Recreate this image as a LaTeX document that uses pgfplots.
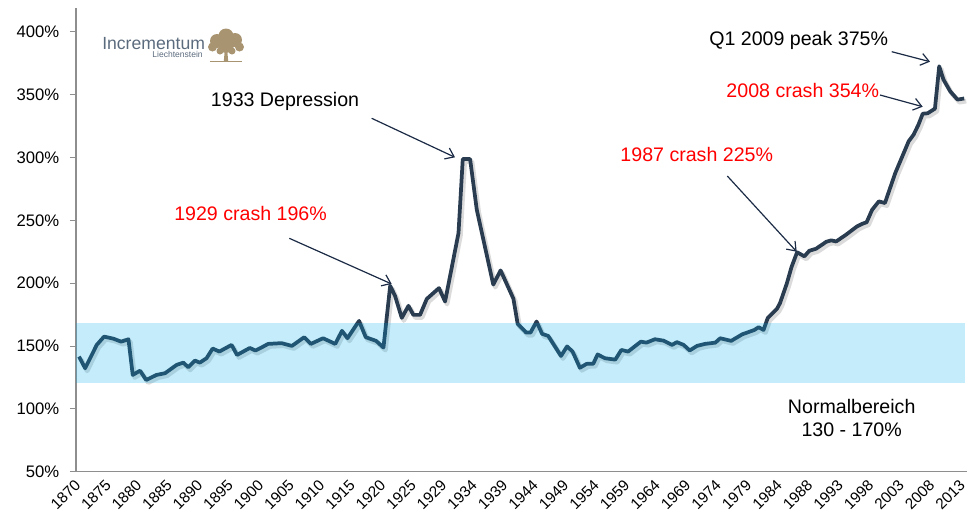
\documentclass[border=0pt]{standalone}
\usepackage{fontspec}
\setmainfont{Liberation Sans}
\usepackage{pgfplots}
\pgfplotsset{compat=1.18}
\usepackage{pgfplotstable}
\usetikzlibrary{arrows.meta}
\definecolor{linec}{HTML}{2A3C50}
\definecolor{bandc}{RGB}{0,175,235}
\definecolor{axisgray}{HTML}{8E8E8E}
\definecolor{arrowc}{HTML}{1C2B45}
\definecolor{logoblue}{HTML}{5B6B7E}
\definecolor{logotan}{HTML}{A89470}
\definecolor{annred}{HTML}{FF0000}

\pgfplotstableread{
x y
0 141.6
1.0 132.3
2.9 150.9
4.1 157.5
5.6 155.9
6.9 153.5
8.1 155.4
8.8 127.0
10.0 130.4
11.0 123.0
12.7 127.0
14.1 128.4
16.0 135.0
17.1 136.8
17.9 133.1
19.0 138.4
19.8 136.8
20.9 140.3
21.9 148.0
23.0 145.6
25.0 150.9
25.9 142.9
28.0 148.5
28.9 146.4
29.7 148.3
31.0 151.7
33.2 152.3
34.9 150.1
36.9 157.0
38.0 151.7
40.0 156.2
42.0 151.7
43.1 162.1
44.0 156.2
45.9 170.0
47.0 157.0
48.7 154.1
49.9 148.8
51.0 197.9
51.8 189.9
52.9 172.4
54.0 182.0
54.8 174.8
55.9 174.8
57.0 187.5
59.0 196.1
60.0 185.4
62.2 239.9
62.9 298.8
64.1 298.8
65.2 258.4
67.9 198.9
69.1 210.2
71.2 187.7
71.9 167.6
73.3 160.7
74.0 160.7
75.0 169.5
75.9 159.7
76.9 158.1
79.0 142.1
80.0 149.7
80.9 145.6
82.1 132.7
83.2 135.8
84.3 136.0
85.0 143.3
86.2 140.3
87.9 139.2
88.9 146.9
90.0 145.6
92.1 153.5
93.0 152.7
94.4 155.4
95.8 154.3
97.2 150.9
98.0 153.1
99.1 150.9
100.1 146.5
101.3 150.1
102.6 151.7
104.3 152.7
105.1 156.2
106.9 154.1
108.7 159.3
110.7 162.8
111.4 165.0
112.2 162.8
112.9 172.4
114.4 179.6
114.9 184.1
116.0 199.5
116.8 213.0
117.7 224.6
118.9 221.4
119.7 225.8
120.8 227.4
122.5 233.0
123.3 234.1
124.1 233.2
125.7 238.5
127.5 245.1
128.4 247.3
129.1 248.5
130.0 258.4
131.1 265.1
132.1 263.8
133.8 287.7
136.0 313.0
136.8 318.2
137.6 326.2
138.3 334.9
139.1 335.2
140.3 338.9
141.0 372.6
141.7 362.0
142.8 352.7
144.0 346.1
145.1 347.0
}\debt

\begin{document}
\begin{tikzpicture}
\useasboundingbox (-57pt,-37pt) rectangle (677.25pt,353.775pt);
\begin{axis}[
  at={(0,0)}, anchor=south west,
  scale only axis, width=668pt, height=347.775pt,
  xmin=-0.5, xmax=145.5, ymin=50, ymax=419,
  axis x line=bottom, axis y line=left,
  axis line style={draw=axisgray, line width=0.8pt, -},
  tick align=outside, major tick length=4.5pt,
  ytick style={draw=axisgray, line width=0.8pt},
  xtick style={draw=none},
  ytick={50,100,150,200,250,300,350,400},
  yticklabels={50\%,100\%,150\%,200\%,250\%,300\%,350\%,400\%},
  yticklabel style={font=\fontsize{12.5}{14}\selectfont, text=black, xshift=-4.5pt},
  xtick={0,5,...,145},
  xticklabels={1870,1875,1880,1885,1890,1895,1900,1905,1910,1915,1920,1925,1929,1934,1939,1944,1949,1954,1959,1964,1969,1974,1979,1984,1988,1993,1998,2003,2008,2013},
  xticklabel style={rotate=45, anchor=east, font=\fontsize{11.5}{13}\selectfont, text=black, yshift=-2pt},
  clip=false,
]
\addplot[draw=black, opacity=0.14, line width=3.4pt, line join=round, xshift=1.5pt, yshift=-2pt] table[x=x,y=y] {\debt};
\addplot[draw=linec, line width=2.8pt, line join=round] table[x=x,y=y] {\debt};
\addplot[draw=none, fill=bandc, fill opacity=0.23] coordinates {(-0.5,120.8) (145.2,120.8) (145.2,168.6) (-0.5,168.6)} -- cycle;
\end{axis}
\begin{scope}[x=0.75pt, y=-0.75pt, shift={(-57pt,353.775pt)}]
  % logo
  \node[anchor=base west, inner sep=0, text=logoblue, font=\fontsize{13.2}{15}\selectfont] at (102,49) {Incrementum};
  \node[anchor=base east, inner sep=0, text=logoblue, font=\fontsize{6.4}{7}\selectfont] at (203,57) {Liechtenstein};
  \fill[logotan] (217,41) circle (7) (226,36) circle (7.5) (235,40) circle (7) (239.5,47) circle (4.5) (212.5,47) circle (4.5) (226,45) circle (8) (220,51) circle (3.5) (232,51) circle (3.5);
  \fill[logotan] (224.8,50) -- (227.2,50) -- (228.2,61) -- (223.8,61) -- cycle;
  \draw[logotan, line width=0.9pt] (210,61.5) -- (242,61.5);
  % annotations
  \begin{scope}[every node/.style={inner sep=0, font=\fontsize{14.7}{17}\selectfont}]
  \node[anchor=base west] at (210.7,106) {1933 Depression};
  \node[anchor=base west, text=annred] at (174,220.7) {1929 crash 196\%};
  \node[anchor=base east, text=annred] at (773.3,161.7) {1987 crash 225\%};
  \node[anchor=base east, text=annred] at (879.3,97.3) {2008 crash 354\%};
  \node[anchor=base east] at (888.3,45) {Q1 2009 peak 375\%};
  \node[anchor=base] at (851.7,413.3) {Normalbereich};
  \node[anchor=base] at (851.7,436.7) {130 - 170\%};
  \end{scope}
  \begin{scope}[draw=arrowc, line width=0.9pt, -{Straight Barb[length=6pt,width=9pt,line width=0.9pt]}]
  \draw (289.3,238.3) -- (391.7,284);
  \draw (371.7,118.3) -- (455,157.3);
  \draw (727.3,176) -- (796.7,251.7);
  \draw (891.7,51.7) -- (930,61.7);
  \draw (880,95) -- (922.7,106.7);
  \end{scope}
\end{scope}
\end{tikzpicture}
\end{document}
